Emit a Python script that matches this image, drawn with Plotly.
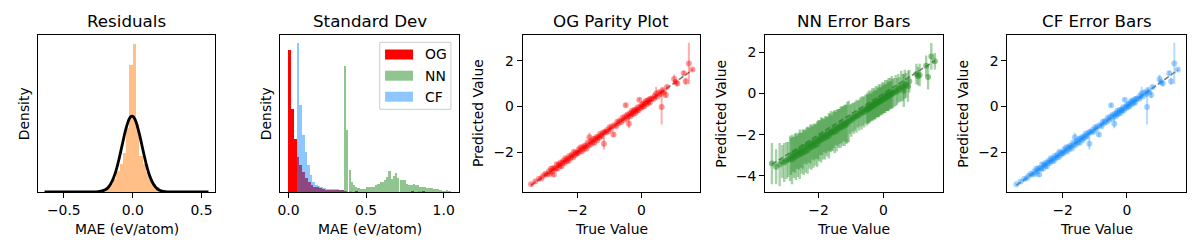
import plotly.graph_objects as go

FONT = "DejaVu Sans"
PAGE_OFF = 8            # default body margin of the page holding the figure
W, H = 1200 - PAGE_OFF, 250 - PAGE_OFF

# ---------------- Panel 1: residual histogram + normal fit ----------------
resid_bin_width = 0.024
resid_centers = [-0.276, -0.252, -0.228, -0.204, -0.18, -0.156, -0.132, -0.108, -0.084, -0.06,
                 -0.036, -0.012, 0.012, 0.036, 0.06, 0.084, 0.108, 0.132, 0.156, 0.18,
                 0.204, 0.228, 0.252, 0.408]
resid_density = [0.04, 0.05, 0.08, 0.17, 0.36, 0.6, 0.96, 1.5, 2.0, 2.8,
                 4.6, 9.17, 10.68, 4.9, 2.6, 2.0, 1.45, 0.96, 0.6, 0.36,
                 0.17, 0.07, 0.04, 0.04]
gauss_x = [-0.64, -0.4, -0.3, -0.25, -0.2, -0.175, -0.15, -0.125, -0.1, -0.075, -0.05, -0.025,
           -0.0125, 0.0, 0.0125, 0.025, 0.05, 0.075, 0.1, 0.125, 0.15, 0.175, 0.2, 0.25, 0.3, 0.4, 0.55]
gauss_y = [0.0, 0.0, 0.002, 0.019, 0.154, 0.36, 0.76, 1.41, 2.34, 3.45, 4.52, 5.26,
           5.43, 5.45, 5.30, 5.02, 4.11, 3.0, 1.94, 1.12, 0.57, 0.26, 0.106, 0.012, 0.0, 0.0, 0.0]

# ---------------- Panel 2: standard deviation histograms ----------------
og_bin_width = 0.018
og_std_centers = [0.009, 0.027, 0.045, 0.063, 0.081, 0.099, 0.117, 0.135, 0.153, 0.171,
                  0.189, 0.207, 0.225, 0.243, 0.261, 0.279, 0.297, 0.315, 0.333, 0.351,
                  0.369, 0.441, 0.801, 0.873]
og_std_density = [18.9, 11.0, 7.0, 4.7, 3.6, 2.7, 1.9, 1.3, 0.93, 0.73,
                  0.6, 0.47, 0.4, 0.33, 0.33, 0.27, 0.27, 0.27, 0.27, 0.2,
                  0.13, 0.1, 0.1, 0.1]
nn_bin_width = 0.0143
nn_std_centers = [0.367, 0.381, 0.396, 0.410, 0.424, 0.439, 0.453, 0.467, 0.482, 0.496,
                  0.510, 0.524, 0.539, 0.553, 0.567, 0.582, 0.596, 0.610, 0.625, 0.639,
                  0.653, 0.668, 0.682, 0.696, 0.710, 0.725, 0.739, 0.753, 0.768, 0.782,
                  0.796, 0.811, 0.825, 0.839, 0.853, 0.868, 0.882, 0.896, 0.911, 0.925,
                  0.939, 0.953, 0.968, 0.982, 0.996, 1.011, 1.025, 1.039]
nn_std_density = [16.8, 8.2, 2.9, 1.33, 0.9, 0.67, 0.53, 0.45, 0.45, 0.45,
                  0.67, 0.67, 0.67, 0.67, 0.9, 1.12, 1.33, 1.33, 1.56, 2.0,
                  2.76, 1.73, 2.13, 2.59, 1.87, 1.56, 1.56, 1.56, 1.12, 0.99,
                  0.9, 1.12, 0.99, 0.9, 0.73, 0.67, 0.67, 0.53, 0.53, 0.53,
                  0.45, 0.36, 0.36, 0.27, 0.17, 0.17, 0.23, 0.09]
cf_bin_width = 0.017
cf_std_centers = [0.0625, 0.0795, 0.0965, 0.1135, 0.1305, 0.1475, 0.1645, 0.1815, 0.1985, 0.2155,
                  0.2325, 0.2495, 0.2665, 0.2835, 0.3005, 0.3175, 0.3345, 0.3515, 0.3685, 0.4025,
                  0.8445]
cf_std_density = [19.8, 11.6, 7.6, 5.3, 3.6, 2.2, 1.33, 0.9, 0.8, 0.67,
                  0.53, 0.45, 0.36, 0.36, 0.36, 0.36, 0.23, 0.23, 0.13, 0.1,
                  0.07]
legend_labels = ["OG", "NN", "CF"]

# ---------------- Panels 3-5: parity plots ----------------
true_vals = [
    -3.44, -3.31, -3.20, -3.12, -3.06, -2.99, -2.94,
    -2.88, -2.85, -2.82, -2.79, -2.76, -2.73, -2.70, -2.67, -2.64, -2.61,
    -2.58, -2.55, -2.52, -2.49, -2.46, -2.43, -2.40, -2.37, -2.34, -2.31,
    -2.28, -2.25, -2.22, -2.19, -2.16, -2.13, -2.10, -2.07, -2.04, -2.01,
    -1.98, -1.95, -1.92, -1.89, -1.86, -1.83, -1.80, -1.77, -1.74, -1.71,
    -1.68, -1.65, -1.62, -1.59, -1.56, -1.53, -1.50, -1.47, -1.44, -1.41,
    -1.38, -1.35, -1.32, -1.29, -1.26, -1.23, -1.20, -1.17, -1.14, -1.11,
    -1.07, -1.03, -0.99, -0.95, -0.91, -0.87, -0.83, -0.79, -0.75, -0.71,
    -0.67, -0.63, -0.59, -0.55, -0.51,
    -0.49, -0.465, -0.44, -0.415, -0.39, -0.365, -0.34, -0.315, -0.29, -0.265,
    -0.24, -0.215, -0.19, -0.165, -0.14, -0.115, -0.09, -0.065, -0.04, -0.015,
    0.01, 0.035, 0.06, 0.085, 0.11, 0.135, 0.16, 0.185, 0.21, 0.235, 0.26, 0.285,
    0.33, 0.38, 0.42, 0.46, 0.50, 0.55, 0.60, 0.63, 0.66, 0.70,
    0.76, 0.80, 1.02, 1.07, 1.12, 1.32, 1.38, 1.48, 1.59,
]
pred_vals = [
    -3.39, -3.27, -3.16, -3.13, -3.02, -2.93, -2.97,
    -2.83, -2.93, -2.72, -2.82, -2.69, -2.97, -2.68, -2.73, -2.52, -2.70,
    -2.54, -2.57, -2.44, -2.61, -2.45, -2.37, -2.47, -2.26, -2.38, -2.28,
    -2.38, -2.16, -2.27, -2.19, -2.09, -2.21, -1.97, -2.13, -2.02, -2.04,
    -2.04, -1.86, -1.94, -1.78, -1.96, -1.79, -1.87, -1.71, -1.74, -1.83,
    -1.58, -1.69, -1.34, -1.67, -1.51, -1.56, -1.42, -1.58, -1.42, -1.34,
    -1.47, -1.32, -1.37, -1.19, -1.27, -1.30, -1.14, -1.63, -1.10, -1.13,
    -1.03, -1.09, -0.91, -0.98, -0.86, -1.22, -0.81, -0.86, -0.66, -0.73,
    -0.61, -0.68, -0.49, -0.59, -0.44,
    0.06, -0.52, -0.36, -0.44, -0.75, -0.31, -0.42, -0.29, -0.19, -0.33,
    -0.23, -0.15, -0.28, -0.13, -0.17, -0.03, -0.16, 0.30, -0.02, -0.07,
    0.09, -0.01, 0.12, 0.01, 0.14, 0.24, 0.10, 0.24, 0.19, 0.31, 0.16, 0.33,
    0.36, 0.33, 0.47, 0.57, 0.44, 0.62, 0.55, -0.02, 0.72, 0.62,
    0.50, 0.85, 1.20, 1.07, 1.00, 1.45, 1.10, 1.88, 1.61,
]
og_err = [
    0.04, 0.05, 0.03, 0.06, 0.05, 0.04, 0.08,
    0.04, 0.06, 0.03, 0.05, 0.04, 0.10, 0.03, 0.05, 0.04, 0.06,
    0.03, 0.05, 0.04, 0.12, 0.03, 0.05, 0.04, 0.06, 0.03, 0.05,
    0.08, 0.03, 0.05, 0.04, 0.06, 0.03, 0.05, 0.04, 0.06, 0.03,
    0.05, 0.04, 0.06, 0.03, 0.05, 0.04, 0.06, 0.03, 0.05, 0.04,
    0.06, 0.03, 0.20, 0.04, 0.06, 0.03, 0.05, 0.10, 0.06, 0.03,
    0.05, 0.04, 0.06, 0.03, 0.05, 0.04, 0.06, 0.25, 0.05, 0.04,
    0.05, 0.04, 0.06, 0.03, 0.05, 0.10, 0.06, 0.03, 0.05, 0.04,
    0.06, 0.03, 0.05, 0.04, 0.06,
    0.08, 0.04, 0.06, 0.03, 0.20, 0.04, 0.06, 0.03, 0.05, 0.12,
    0.06, 0.03, 0.05, 0.04, 0.06, 0.03, 0.05, 0.06, 0.06, 0.03,
    0.05, 0.04, 0.06, 0.03, 0.05, 0.04, 0.06, 0.03, 0.05, 0.04, 0.06, 0.03,
    0.05, 0.06, 0.08, 0.29, 0.06, 0.10, 0.08, 0.76, 0.10, 0.06,
    0.12, 0.08, 0.20, 0.10, 0.12, 0.10, 0.15, 0.90, 0.06,
]
cf_pred = list(pred_vals)   # the CF panel shows the same predictions
cf_err = list(og_err)       # and visually identical error bars
nn_pred = [
    -3.40, -3.55, -3.45, -3.30, -3.35, -3.25, -3.20,
    -3.15, -3.05, -3.20, -2.95, -3.10, -2.90, -3.05, -2.85, -3.00, -2.80,
    -2.95, -2.75, -2.90, -2.70, -2.85, -2.60, -2.80, -2.55, -2.75, -2.50,
    -2.65, -2.45, -2.60, -2.40, -2.55, -2.35, -2.50, -2.30, -2.45, -2.25,
    -2.30, -2.15, -2.25, -2.10, -2.20, -2.05, -2.15, -2.00, -2.10, -1.95,
    -2.05, -1.90, -1.85, -1.90, -1.85, -1.75, -1.85, -1.70, -1.80, -1.65,
    -1.70, -1.60, -1.65, -1.50, -1.60, -1.45, -1.55, -1.45, -1.50, -1.40,
    -1.35, -1.25, -1.30, -1.15, -1.20, -1.10, -1.10, -1.00, -1.05, -0.90,
    -0.95, -0.85, -0.90, -0.75, -0.80,
    -0.70, -0.75, -0.65, -0.70, -0.60, -0.65, -0.55, -0.60, -0.50, -0.55,
    -0.45, -0.50, -0.40, -0.45, -0.35, -0.40, -0.30, -0.35, -0.25, -0.30,
    -0.20, -0.25, -0.15, -0.20, -0.10, -0.15, -0.05, -0.10, 0.00, -0.05, 0.05, 0.00,
    0.05, 0.15, 0.10, 0.25, 0.20, 0.35, 0.30, 0.15, 0.45, 0.40,
    0.35, 0.60, 0.95, 0.85, 0.90, 1.35, 0.80, 1.80, 1.57,
]
nn_err = [
    1.00, 0.85, 1.05, 0.80, 0.95, 0.90, 0.85,
    1.10, 0.90, 1.20, 0.85, 1.00, 0.95, 1.15, 0.80, 1.05, 0.90,
    1.20, 0.85, 1.00, 0.95, 1.10, 0.80, 1.05, 0.90, 1.15, 0.85,
    1.00, 0.95, 1.10, 0.80, 1.05, 0.90, 1.00, 0.85, 1.10, 0.95,
    1.00, 0.85, 1.10, 0.90, 1.00, 0.80, 1.05, 0.90, 0.95, 0.85,
    1.10, 0.90, 1.00, 0.85, 0.95, 0.90, 1.05, 0.80, 1.00, 0.90,
    0.95, 0.85, 1.00, 0.90, 0.95, 0.85, 1.00, 0.90, 0.95, 1.00,
    1.00, 0.70, 0.80, 0.70, 0.75, 0.70, 0.80, 0.65, 0.75, 0.70,
    0.80, 0.70, 0.75, 0.70, 0.75,
    0.75, 0.70, 0.80, 0.70, 0.75, 0.65, 0.80, 0.70, 0.75, 0.70,
    0.80, 0.65, 0.75, 0.70, 0.80, 0.70, 0.75, 0.65, 0.80, 0.70,
    0.75, 0.70, 0.80, 0.65, 0.75, 0.70, 0.80, 0.70, 0.75, 0.65, 0.80, 0.70,
    0.70, 0.75, 0.65, 0.70, 0.60, 0.75, 0.65, 0.80, 0.70, 0.60,
    0.75, 0.55, 0.50, 0.45, 0.55, 0.50, 0.60, 0.65, 0.40,
]
n = len(true_vals)
assert all(len(a) == n for a in (pred_vals, og_err, nn_pred, nn_err)), \
    [len(a) for a in (true_vals, pred_vals, og_err, nn_pred, nn_err)]

# ---------------- figure ----------------
fig = go.Figure()

# panel 1
fig.add_trace(go.Bar(x=resid_centers, y=resid_density, width=resid_bin_width,
                     marker=dict(color="rgba(255,127,14,0.5)", line=dict(width=0)),
                     xaxis="x", yaxis="y", showlegend=False))
fig.add_trace(go.Scatter(x=gauss_x, y=gauss_y, mode="lines",
                         line=dict(color="black", width=2.8, shape="spline", smoothing=0.8),
                         xaxis="x", yaxis="y", showlegend=False))

# panel 2
hist_specs = [
    (og_std_centers, og_std_density, og_bin_width, "rgba(255,0,0,1)"),
    (nn_std_centers, nn_std_density, nn_bin_width, "rgba(34,139,34,0.5)"),
    (cf_std_centers, cf_std_density, cf_bin_width, "rgba(30,144,255,0.5)"),
]
for cx, cy, bw, col in hist_specs:
    fig.add_trace(go.Bar(x=cx, y=cy, width=bw, marker=dict(color=col, line=dict(width=0)),
                         xaxis="x2", yaxis="y2", showlegend=False))

# panels 3-5
line_ends = [min(true_vals), max(true_vals)]
scatter_specs = [
    ("x3", "y3", pred_vals, og_err, (255, 0, 0), 0.4, 2.0),
    ("x4", "y4", nn_pred, nn_err, (34, 139, 34), 0.5, 2.4),
    ("x5", "y5", cf_pred, cf_err, (30, 144, 255), 0.4, 2.0),
]
for xa, ya, yv, ev, (r, g, b), a, th in scatter_specs:
    fig.add_trace(go.Scatter(x=line_ends, y=line_ends, mode="lines",
                             line=dict(color="rgba(0,0,0,0.5)", width=1.6, dash="5.5px,2.4px"),
                             xaxis=xa, yaxis=ya, showlegend=False))
    fig.add_trace(go.Scatter(x=true_vals, y=yv, mode="markers",
                             marker=dict(size=6, color=f"rgba({r},{g},{b},{a})", line=dict(width=0)),
                             error_y=dict(type="data", array=ev, visible=True, width=0,
                                          thickness=th, color=f"rgba({r},{g},{b},{a * 0.8:.2f})"),
                             xaxis=xa, yaxis=ya, showlegend=False))

# ---------------- axes ----------------
def px_x(v):
    return (v - PAGE_OFF) / W

def px_y(v):
    return 1 - (v - PAGE_OFF) / H

ydom = [px_y(192), px_y(35)]
xdoms = [(35, 213), (278, 457), (521, 699), (764, 942), (1007, 1186)]

def ax(**kw):
    d = dict(showline=True, linecolor="black", linewidth=1, mirror=True,
             ticks="outside", ticklen=5, tickwidth=1, tickcolor="black",
             tickfont=dict(family=FONT, size=13.9, color="black"),
             showgrid=False, zeroline=False, fixedrange=True)
    d.update(kw)
    return d

x_ranges = [[-0.688, 0.601], [-0.053, 1.098], [-3.70, 1.835], [-3.65, 1.83], [-3.72, 1.845]]
y_ranges = [[0, 11.3], [0, 20.9], [-3.73, 3.12], [-4.78, 2.84], [-3.73, 3.12]]
x_ticks = [([-0.5, 0.0, 0.5], ["\u22120.5", "0.0", "0.5"]),
           ([0.0, 0.5, 1.0], ["0.0", "0.5", "1.0"]),
           ([-2, 0], ["\u22122", "0"]),
           ([-2, 0], ["\u22122", "0"]),
           ([-2, 0], ["\u22122", "0"])]
y_ticks = [None, None,
           ([-2, 0, 2], ["\u22122", "0", "2"]),
           ([-4, -2, 0, 2], ["\u22124", "\u22122", "0", "2"]),
           ([-2, 0, 2], ["\u22122", "0", "2"])]

layout_axes = {}
for i in range(5):
    sfx = "" if i == 0 else str(i + 1)
    xv, xt = x_ticks[i]
    layout_axes["xaxis" + sfx] = ax(domain=[px_x(xdoms[i][0]), px_x(xdoms[i][1])],
                                    range=x_ranges[i], tickvals=xv, ticktext=xt,
                                    anchor="y" + sfx)
    if y_ticks[i] is None:
        layout_axes["yaxis" + sfx] = ax(domain=ydom, range=y_ranges[i], ticks="",
                                        showticklabels=False, anchor="x" + sfx)
    else:
        yv, yt = y_ticks[i]
        layout_axes["yaxis" + sfx] = ax(domain=ydom, range=y_ranges[i], tickvals=yv,
                                        ticktext=yt, anchor="x" + sfx)

# ---------------- text ----------------
titles = ["Residuals", "Standard Dev", "OG Parity Plot", "NN Error Bars", "CF Error Bars"]
xlabels = ["MAE (eV/atom)", "MAE (eV/atom)", "True Value", "True Value", "True Value"]
ylabels = ["Density", "Density", "Predicted Value", "Predicted Value", "Predicted Value"]
ylabel_x = [21.7, 264.3, 476.7, 720, 962.7]

ann = []
for i in range(5):
    cx = (xdoms[i][0] + xdoms[i][1]) / 2
    ann.append(dict(text=titles[i], x=px_x(cx), y=px_y(21), xref="paper", yref="paper",
                    showarrow=False, xanchor="center", yanchor="middle",
                    font=dict(family=FONT, size=16.7, color="black")))
    ann.append(dict(text=xlabels[i], x=px_x(cx), y=px_y(228.5), xref="paper", yref="paper",
                    showarrow=False, xanchor="center", yanchor="middle",
                    font=dict(family=FONT, size=13.9, color="black")))
    ann.append(dict(text=ylabels[i], x=px_x(ylabel_x[i]), y=px_y(113.5), xref="paper",
                    yref="paper", showarrow=False, xanchor="center", yanchor="middle",
                    textangle=-90, font=dict(family=FONT, size=13.9, color="black")))

# manual legend for panel 2
shapes = [dict(type="rect", xref="paper", yref="paper",
               x0=px_x(377.7), x1=px_x(449), y0=px_y(109.3), y1=px_y(42.3),
               line=dict(color="#cccccc", width=1), fillcolor="rgba(255,255,255,0.8)", layer="above")]
leg_cols = ["rgb(255,0,0)", "rgba(34,139,34,0.5)", "rgba(30,144,255,0.5)"]
leg_y = [54.5, 75.7, 96.7]
for lab, col, yc in zip(legend_labels, leg_cols, leg_y):
    shapes.append(dict(type="rect", xref="paper", yref="paper",
                       x0=px_x(383), x1=px_x(411), y0=px_y(yc + 5), y1=px_y(yc - 5),
                       line=dict(width=0), fillcolor=col, layer="above"))
    ann.append(dict(text=lab, x=px_x(421), y=px_y(yc), xref="paper", yref="paper",
                    showarrow=False, xanchor="left", yanchor="middle",
                    font=dict(family=FONT, size=13.9, color="black")))

fig.update_layout(width=W, height=H, margin=dict(l=0, r=0, t=0, b=0),
                  paper_bgcolor="white", plot_bgcolor="white",
                  barmode="overlay", bargap=0, showlegend=False,
                  font=dict(family=FONT, size=13.9, color="black"),
                  annotations=ann, shapes=shapes, **layout_axes)

fig.write_html("out.html")
